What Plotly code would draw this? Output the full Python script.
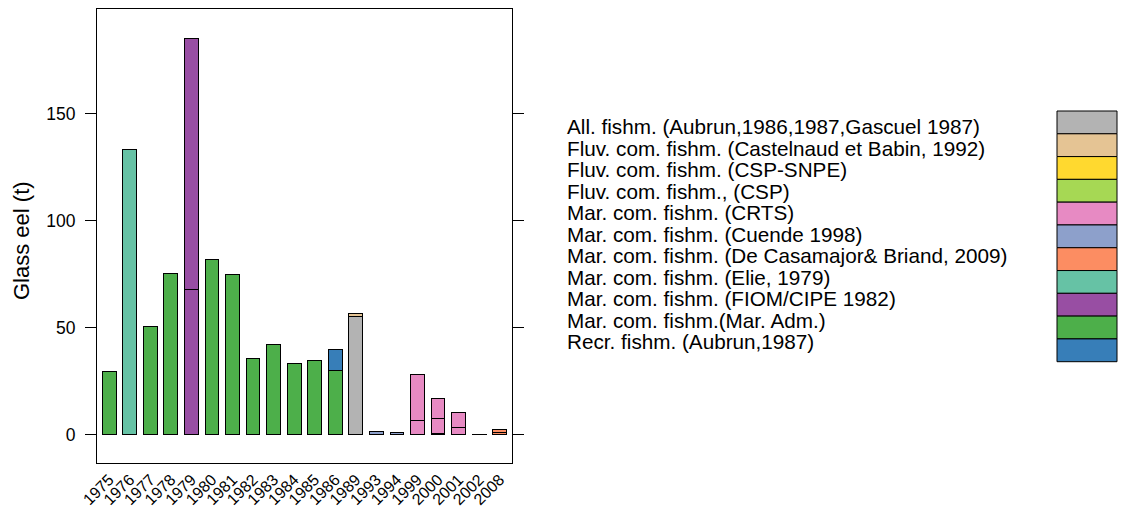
import plotly.graph_objects as go

# ---------------- data ----------------
years = ["1975", "1976", "1977", "1978", "1979", "1980", "1981", "1982", "1983",
         "1984", "1985", "1986", "1989", "1993", "1994", "1999", "2000", "2001",
         "2002", "2008"]

sources = [
    "All. fishm. (Aubrun,1986,1987,Gascuel 1987)",
    "Fluv. com. fishm. (Castelnaud et Babin, 1992)",
    "Fluv. com. fishm. (CSP-SNPE)",
    "Fluv. com. fishm., (CSP)",
    "Mar. com. fishm. (CRTS)",
    "Mar. com. fishm. (Cuende 1998)",
    "Mar. com. fishm. (De Casamajor& Briand, 2009)",
    "Mar. com. fishm. (Elie, 1979)",
    "Mar. com. fishm. (FIOM/CIPE 1982)",
    "Mar. com. fishm.(Mar. Adm.)",
    "Recr. fishm. (Aubrun,1987)",
]
source_colors = ["#B3B3B3", "#E5C494", "#FFD92F", "#A6D854", "#E78AC3", "#8DA0CB",
                 "#FC8D62", "#66C2A5", "#984EA3", "#4DAF4A", "#377EB8"]

# stacked segments (bottom to top within each year)
seg_year = ["1975", "1976", "1977", "1978", "1979", "1979", "1980", "1981", "1982",
            "1983", "1984", "1985", "1986", "1986", "1989", "1989", "1993", "1994",
            "1999", "1999", "2000", "2000", "2000", "2001", "2001", "2002",
            "2008", "2008"]
seg_source = [9, 7, 9, 9, 8, 8, 9, 9, 9,
              9, 9, 9, 9, 10, 0, 1, 5, 5,
              4, 4, 4, 4, 4, 4, 4, 4,
              6, 6]
seg_value = [29.5, 133.0, 50.5, 75.3, 68.0, 117.0, 82.0, 74.9, 35.7,
             42.3, 33.5, 34.6, 30.0, 9.9, 55.1, 1.6, 1.6, 1.0,
             6.7, 21.3, 0.5, 7.1, 9.2, 3.6, 7.0, 0.2,
             1.3, 1.4]

FONT = "Liberation Sans, Arial, sans-serif"

# ---------------- figure ----------------
fig = go.Figure()

# group segments into stacking layers
layer_of = []
count = {}
for y in seg_year:
    layer_of.append(count.get(y, 0))
    count[y] = count.get(y, 0) + 1
n_layers = max(layer_of) + 1
for L in range(n_layers):
    xs, ys, cs = [], [], []
    for i in range(len(seg_year)):
        if layer_of[i] == L:
            xs.append(seg_year[i])
            ys.append(seg_value[i])
            cs.append(source_colors[seg_source[i]])
    fig.add_trace(go.Bar(
        x=xs, y=ys, width=0.67,
        marker=dict(color=cs, line=dict(color="black", width=1)),
        showlegend=False, hoverinfo="x+y",
    ))

W, H = 1125, 508
ML, MR, MT, MB = 97, 613, 9, 45
pw, ph = W - ML - MR, H - MT - MB


def px(xp):
    return (xp - ML) / pw


def py(yp):
    return (H - MB - yp) / ph


# custom legend: text + colour key
box_top, box_bot = 111.0, 361.7
box_h = (box_bot - box_top) / len(sources)
text_top, text_step = 126.7, 21.5
shapes = []
annotations = []
for i, (s, c) in enumerate(zip(sources, source_colors)):
    y0 = box_top + i * box_h
    shapes.append(dict(type="rect", xref="paper", yref="paper",
                       x0=px(1057), x1=px(1117), y0=py(y0 + box_h), y1=py(y0),
                       fillcolor=c, line=dict(color="black", width=1)))
    annotations.append(dict(text=s, xref="paper", yref="paper",
                            x=px(565), y=py(text_top + i * text_step),
                            xanchor="left", yanchor="middle", showarrow=False,
                            font=dict(family=FONT, size=20.7, color="black")))

annotations.append(dict(text="Glass eel (t)", xref="paper", yref="paper",
                        x=px(21), y=py(241), textangle=-90,
                        xanchor="center", yanchor="middle", showarrow=False,
                        font=dict(family=FONT, size=22, color="black")))

fig.update_layout(
    width=W, height=H,
    margin=dict(l=ML, r=MR, t=MT, b=MB, pad=0),
    barmode="stack",
    plot_bgcolor="white", paper_bgcolor="white",
    font=dict(family=FONT, size=17.5, color="black"),
    shapes=shapes, annotations=annotations,
    xaxis=dict(type="category", categoryorder="array", categoryarray=years,
               tickmode="array", tickvals=years, ticktext=years,
               range=[-0.595, 19.6], showgrid=False, zeroline=False,
               showline=True, linecolor="black", linewidth=1, mirror=True,
               ticks="", tickangle=-45, tickfont=dict(size=16),
               automargin=False, ticklabelstandoff=0),
    yaxis=dict(range=[-13.1, 198.7], tickvals=[0, 50, 100, 150],
               showgrid=False, zeroline=False,
               showline=True, linecolor="black", linewidth=1, mirror="allticks",
               ticks="outside", ticklen=11, tickcolor="black", tickwidth=1,
               tickfont=dict(size=17.5), automargin=False, ticklabelstandoff=6),
)

fig.write_html("out.html")
